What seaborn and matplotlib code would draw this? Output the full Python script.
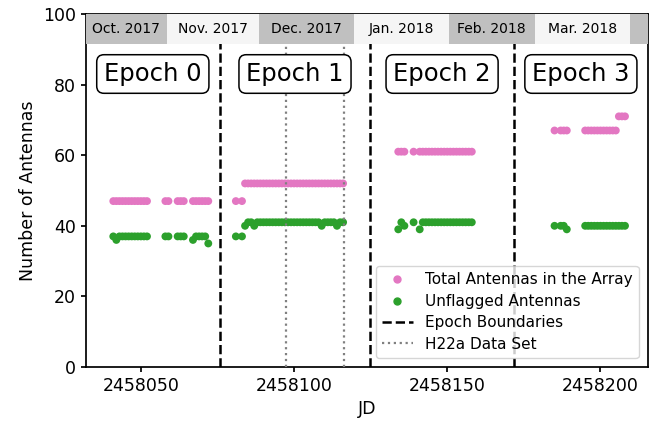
import matplotlib
matplotlib.use("Agg")
import matplotlib.pyplot as plt
from matplotlib.lines import Line2D
import pandas as pd
import seaborn as sns

# Nights observed (JD) and antenna counts
jd = [2458041, 2458042, 2458043, 2458044, 2458045, 2458046, 2458047, 2458048, 2458049, 2458050,
      2458051, 2458052, 2458058, 2458059, 2458062, 2458063, 2458064, 2458067, 2458068, 2458069,
      2458070, 2458071, 2458072,
      2458081, 2458083, 2458084, 2458085, 2458086, 2458087, 2458088, 2458089, 2458090, 2458091,
      2458092, 2458093, 2458094, 2458095, 2458096, 2458097, 2458098, 2458099, 2458100, 2458101,
      2458102, 2458103, 2458104, 2458105, 2458106, 2458107, 2458108, 2458109, 2458110, 2458111,
      2458112, 2458113, 2458114, 2458115, 2458116,
      2458134, 2458135, 2458136, 2458139, 2458141, 2458142, 2458143, 2458144, 2458145, 2458146,
      2458147, 2458148, 2458149, 2458150, 2458151, 2458152, 2458153, 2458154, 2458155, 2458156,
      2458157, 2458158,
      2458185, 2458187, 2458188, 2458189, 2458195, 2458196, 2458197, 2458198, 2458199, 2458200,
      2458201, 2458202, 2458203, 2458204, 2458205, 2458206, 2458207, 2458208]

total = [47, 47, 47, 47, 47, 47, 47, 47, 47, 47,
         47, 47, 47, 47, 47, 47, 47, 47, 47, 47,
         47, 47, 47,
         47, 47, 52, 52, 52, 52, 52, 52, 52, 52,
         52, 52, 52, 52, 52, 52, 52, 52, 52, 52,
         52, 52, 52, 52, 52, 52, 52, 52, 52, 52,
         52, 52, 52, 52, 52,
         61, 61, 61, 61, 61, 61, 61, 61, 61, 61,
         61, 61, 61, 61, 61, 61, 61, 61, 61, 61,
         61, 61,
         67, 67, 67, 67, 67, 67, 67, 67, 67, 67,
         67, 67, 67, 67, 67, 71, 71, 71]

unflagged = [37, 36, 37, 37, 37, 37, 37, 37, 37, 37,
             37, 37, 37, 37, 37, 37, 37, 36, 37, 37,
             37, 37, 35,
             37, 37, 40, 41, 41, 40, 41, 41, 41, 41,
             41, 41, 41, 41, 41, 41, 41, 41, 41, 41,
             41, 41, 41, 41, 41, 41, 41, 40, 41, 41,
             41, 41, 40, 41, 41,
             39, 41, 40, 41, 39, 41, 41, 41, 41, 41,
             41, 41, 41, 41, 41, 41, 41, 41, 41, 41,
             41, 41,
             40, 40, 40, 39, 40, 40, 40, 40, 40, 40,
             40, 40, 40, 40, 40, 40, 40, 40]

series_names = ["Total Antennas in the Array", "Unflagged Antennas"]
epoch_bounds = [2458075.8, 2458124.8, 2458171.8]
h22a_bounds = [2458097.3, 2458116.3]
epoch_labels = ["Epoch 0", "Epoch 1", "Epoch 2", "Epoch 3"]
month_labels = ["Oct. 2017", "Nov. 2017", "Dec. 2017", "Jan. 2018", "Feb. 2018", "Mar. 2018", ""]
month_starts = [2458027.5, 2458058.5, 2458088.5, 2458119.5, 2458150.5, 2458178.5, 2458209.5]
month_ends = [2458058.5, 2458088.5, 2458119.5, 2458150.5, 2458178.5, 2458209.5, 2458239.5]
month_colors = ["#c0c0c0", "#f5f5f5"]
xlim = (2458032.0, 2458215.4)
xticks = [2458050, 2458100, 2458150, 2458200]

df = pd.DataFrame({
    "JD": jd + jd,
    "N": total + unflagged,
    "kind": [series_names[0]] * len(jd) + [series_names[1]] * len(jd),
})

colors = ["#e377c2", "#2ca02c"]

plt.rcParams["axes.linewidth"] = 1.25
plt.rcParams["xtick.major.width"] = 1.25
plt.rcParams["ytick.major.width"] = 1.25

fig, ax = plt.subplots(figsize=(6.66, 4.24), dpi=100)
fig.subplots_adjust(left=0.1287, right=0.9725, top=0.967, bottom=0.1344)

sns.scatterplot(data=df, x="JD", y="N", hue="kind", palette=colors, s=32,
                linewidth=0, ax=ax, legend=False, zorder=2)

for b in epoch_bounds:
    ax.axvline(b, color="black", ls="--", lw=1.8, zorder=3)
for h in h22a_bounds:
    ax.axvline(h, color="gray", ls=":", lw=1.6, zorder=3)

ax.set_xlim(*xlim)
ax.set_ylim(0, 100)

# month bands
for i, (s, e, lab) in enumerate(zip(month_starts, month_ends, month_labels)):
    ax.axvspan(s, e, ymin=0.915, ymax=1.0, color=month_colors[i % 2], lw=0, zorder=4)
    vs, ve = max(s, xlim[0]), min(e, xlim[1])
    if lab:
        ax.text((vs + ve) / 2, 95.8, lab, ha="center", va="center", fontsize=10, zorder=5)

# epoch labels
edges = [xlim[0]] + epoch_bounds + [xlim[1]]
for i, lab in enumerate(epoch_labels):
    ax.text((edges[i] + edges[i + 1]) / 2, 83, lab, ha="center", va="center", fontsize=17.5,
            bbox=dict(boxstyle="round,pad=0.3", fc="white", ec="black", lw=1.1), zorder=5)

ax.set_xticks(xticks)
ax.set_xticklabels([str(t) for t in xticks])
ax.tick_params(labelsize=12.5)
ax.set_xlabel("JD", fontsize=12.5)
ax.set_ylabel("Number of Antennas", fontsize=12.5)

handles = [
    Line2D([], [], ls="", marker="o", color=colors[0], markersize=5),
    Line2D([], [], ls="", marker="o", color=colors[1], markersize=5),
    Line2D([], [], color="black", ls="--", lw=1.8),
    Line2D([], [], color="gray", ls=":", lw=1.6),
]
ax.legend(handles, series_names + ["Epoch Boundaries", "H22a Data Set"],
          loc="lower right", fontsize=11, labelspacing=0.42, borderaxespad=0.6)

fig.savefig("out.png", dpi=100)
